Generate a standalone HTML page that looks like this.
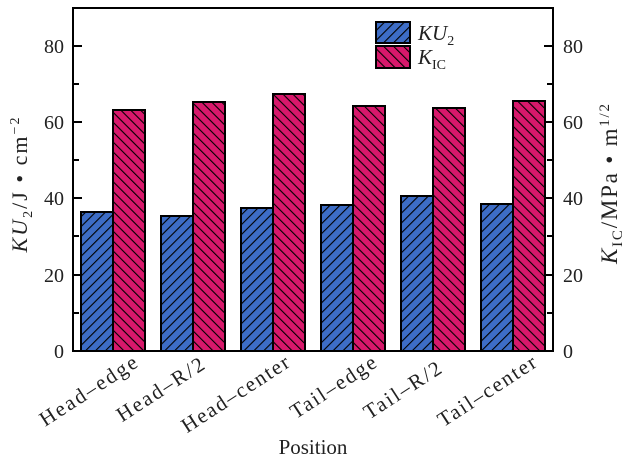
<html><body style="margin:0;background:#fff">
<svg width="630" height="462" xmlns="http://www.w3.org/2000/svg" font-family="Liberation Serif, serif">
<defs>
<pattern id="pb" width="7" height="7" patternUnits="userSpaceOnUse" patternTransform="rotate(45)">
<rect width="7" height="7" fill="#3d6dc6"/><line x1="0" y1="0" x2="0" y2="7" stroke="#000" stroke-width="2.2"/></pattern>
<pattern id="pp" width="7" height="7" patternUnits="userSpaceOnUse" patternTransform="rotate(-45)">
<rect width="7" height="7" fill="#d8186b"/><line x1="0" y1="0" x2="0" y2="7" stroke="#000" stroke-width="2.2"/></pattern>
</defs>
<g stroke="#000" stroke-width="2">
<rect x="81" y="212" width="32" height="139" fill="url(#pb)"/>
<rect x="113" y="110" width="32" height="241" fill="url(#pp)"/>
<rect x="161" y="216" width="32" height="135" fill="url(#pb)"/>
<rect x="193" y="102" width="32" height="249" fill="url(#pp)"/>
<rect x="241" y="208" width="32" height="143" fill="url(#pb)"/>
<rect x="273" y="94" width="32" height="257" fill="url(#pp)"/>
<rect x="321" y="205" width="32" height="146" fill="url(#pb)"/>
<rect x="353" y="106" width="32" height="245" fill="url(#pp)"/>
<rect x="401" y="196" width="32" height="155" fill="url(#pb)"/>
<rect x="433" y="108" width="32" height="243" fill="url(#pp)"/>
<rect x="481" y="204" width="32" height="147" fill="url(#pb)"/>
<rect x="513" y="101" width="32" height="250" fill="url(#pp)"/>
<rect x="376" y="22" width="34" height="21" fill="url(#pb)"/>
<rect x="376" y="46" width="34" height="22" fill="url(#pp)"/>
<rect x="73" y="8" width="480" height="343" fill="none"/>
<path d="M73 46h9M73 122h9M73 198h9M73 275h9M73 84h6M73 160h6M73 236h6M73 313h6M553 46h-9M553 122h-9M553 198h-9M553 275h-9M553 84h-6M553 160h-6M553 236h-6M553 313h-6" fill="none"/>
</g>
<g font-size="20" fill="#222">
<g text-anchor="end"><text x="64" y="358">0</text><text x="64" y="282">20</text><text x="64" y="205">40</text><text x="64" y="129">60</text><text x="64" y="53">80</text></g>
<g><text x="563" y="358">0</text><text x="563" y="282">20</text><text x="563" y="205">40</text><text x="563" y="129">60</text><text x="563" y="53">80</text></g>
<g text-anchor="end" font-size="21">
<text transform="translate(139,366) rotate(-33)" textLength="112" lengthAdjust="spacing">Head–edge</text>
<text transform="translate(206,368) rotate(-33)" textLength="100" lengthAdjust="spacing">Head–R/2</text>
<text transform="translate(291,366) rotate(-33)" textLength="124" lengthAdjust="spacing">Head–center</text>
<text transform="translate(378,366) rotate(-33)" textLength="98" lengthAdjust="spacing">Tail–edge</text>
<text transform="translate(443,372) rotate(-33)" textLength="88" lengthAdjust="spacing">Tail–R/2</text>
<text transform="translate(538,366) rotate(-33)" textLength="113" lengthAdjust="spacing">Tail–center</text>
</g>
<text x="313" y="454" text-anchor="middle" font-size="21">Position</text>
<text transform="translate(27,185) rotate(-90)" text-anchor="middle" font-size="22" textLength="135" lengthAdjust="spacing"><tspan font-style="italic">KU</tspan><tspan font-size="14" dy="5">2</tspan><tspan dy="-5">/J • cm</tspan><tspan font-size="14" dy="-8">−2</tspan></text>
<text transform="translate(617,184) rotate(-90)" text-anchor="middle" font-size="23" textLength="160" lengthAdjust="spacing"><tspan font-style="italic">K</tspan><tspan font-size="15" dy="5">IC</tspan><tspan dy="-5">/MPa • m</tspan><tspan font-size="15" dy="-8">1/2</tspan></text>
<text x="418" y="40" font-size="21"><tspan font-style="italic">KU</tspan><tspan font-size="14" dy="5">2</tspan></text>
<text x="418" y="64" font-size="21"><tspan font-style="italic">K</tspan><tspan font-size="14" dy="5">IC</tspan></text>
</g>
</svg>
</body></html>
